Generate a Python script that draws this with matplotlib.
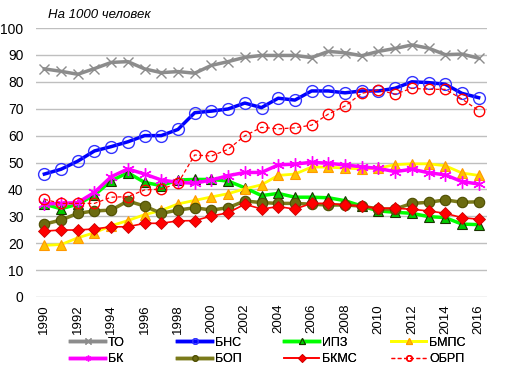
import matplotlib
matplotlib.use("Agg")
import matplotlib.pyplot as plt
from matplotlib.lines import Line2D

plt.rcParams['font.family'] = ['Liberation Sans', 'DejaVu Sans']

years = list(range(1990, 2017))

to_vals = [84.8, 83.9, 82.8, 84.9, 87.2, 87.5, 84.8, 83.4, 83.8, 83.2, 86.1, 87.5, 89.1, 89.8,
           89.8, 89.8, 89.0, 91.3, 90.8, 89.7, 91.3, 92.4, 93.7, 92.5, 90.1, 90.3, 88.8]
bns_vals = [45.7, 47.5, 50.5, 54.3, 55.9, 57.7, 60.0, 60.0, 62.3, 68.5, 69.1, 69.9, 72.1, 70.4,
            73.9, 73.2, 76.6, 76.6, 75.9, 76.6, 76.6, 77.6, 80.0, 79.7, 79.1, 75.7, 74.1]
ipz_vals = [34.5, 32.8, 34.5, 37.9, 43.2, 46.2, 42.6, 41.4, 43.5, 43.7, 43.7, 43.1, 40.6, 37.7,
            38.5, 37.1, 37.1, 36.9, 35.8, 33.8, 32.0, 31.5, 31.1, 29.9, 29.5, 27.1, 26.9]
bmps_vals = [19.2, 19.5, 22.0, 23.9, 26.5, 28.4, 30.6, 32.2, 34.6, 35.9, 37.2, 38.4, 40.2, 41.7,
             45.2, 45.7, 48.3, 48.3, 47.9, 47.6, 47.9, 49.2, 49.5, 49.5, 48.8, 46.1, 45.2]
bk_vals = [34.6, 34.8, 35.1, 38.9, 44.7, 47.6, 45.7, 43.5, 42.6, 42.3, 43.5, 45.1, 46.3, 46.3,
           49.1, 49.4, 50.1, 49.7, 49.1, 48.4, 47.8, 46.6, 47.5, 46.2, 45.4, 42.9, 42.0]
bop_vals = [27.1, 28.6, 31.1, 32.0, 32.3, 35.7, 33.8, 31.1, 32.3, 33.2, 32.3, 33.2, 35.7, 35.1,
            34.8, 34.8, 34.5, 34.2, 34.2, 33.8, 32.7, 32.7, 34.8, 35.2, 36.1, 35.2, 35.4]
bkms_vals = [24.5, 24.9, 24.9, 25.3, 26.1, 26.1, 27.4, 27.4, 28.3, 28.4, 30.1, 31.3, 34.5, 32.7,
             33.6, 32.7, 34.8, 34.8, 34.2, 33.8, 33.0, 33.0, 32.6, 32.0, 31.1, 29.5, 28.9]
obrp_vals = [36.3, 34.8, 34.8, 34.8, 37.1, 37.3, 39.8, 40.1, 42.3, 52.8, 52.4, 54.9, 59.9, 63.1,
             62.5, 62.9, 63.9, 68.0, 71.0, 75.7, 77.0, 75.4, 77.6, 77.2, 77.2, 73.6, 69.3]

labels = ['ТО', 'БНС', 'ИПЗ', 'БМПС', 'БК', 'БОП', 'БКМС', 'ОБРП']
title = 'На 1000 человек'

fig = plt.figure(figsize=(5.16, 3.74), dpi=100)
ax = fig.add_axes([36/516, 1-297/374, 451/516, 269/374])

x = list(range(len(years)))

styles = [
    dict(color='#8c8c8c', lw=2.5, marker='x', ms=7, mec='#8c8c8c', mew=1.0, mfc='none'),
    dict(color='#0000ff', lw=2.5, marker='o', ms=8.5, mec='#3333ff', mew=1.0, mfc='none'),
    dict(color='#00ff00', lw=2.5, marker='^', ms=7, mec='#1a3300', mew=0.8, mfc='#00cc00'),
    dict(color='#ffff00', lw=2.0, marker='^', ms=6.5, mec='#ff9900', mew=0.8, mfc='#ffc000'),
    dict(color='#ff00ff', lw=2.5, marker=(6, 2, 0), ms=9, mec='#ff00ff', mew=1.0, mfc='none'),
    dict(color='#7a7a1a', lw=2.5, marker='o', ms=7.5, mec='#4d4d00', mew=0.8, mfc='#6b6b10'),
    dict(color='#ff0000', lw=1.2, marker='D', ms=6, mec='#cc0000', mew=0.6, mfc='#ff0000'),
    dict(color='#ff0000', lw=0.9, ls=(0, (3, 2)), marker='o', ms=7.5, mec='#ff0000', mew=1.0, mfc='none'),
]
series = [to_vals, bns_vals, ipz_vals, bmps_vals, bk_vals, bop_vals, bkms_vals, obrp_vals]

for i, (vals, st) in enumerate(zip(series, styles)):
    ax.plot(x, vals, zorder=3 + i, **st)

ax.set_xlim(-0.5, len(years) - 0.5)
ax.set_ylim(0, 100)
ax.set_yticks(range(0, 101, 10))
ax.set_xticks(x[::2])
ax.set_xticklabels([str(y) for y in years[::2]], rotation=90, fontsize=9.5)
ax.tick_params(axis='y', labelsize=10, length=0, pad=9)
ax.tick_params(axis='x', length=0, pad=5)
ax.grid(axis='y', color='#bfbfbf', lw=1.0)
for sp in ax.spines.values():
    sp.set_visible(False)
ax.set_axisbelow(True)

fig.text(48/516, 1-15/374, title, fontsize=9.5, style='italic', va='center', ha='left')

handles = []
for st in styles:
    h = dict(st)
    h['ms'] = 4
    handles.append(Line2D([0], [0], **h))

col_x = [70, 177, 284, 391]
for c in range(4):
    idx = [c, c + 4]
    lg = fig.legend([handles[i] for i in idx], [labels[i] for i in idx],
                    loc='center left', bbox_to_anchor=(col_x[c]/516, 1-351/374),
                    frameon=False, fontsize=9, handlelength=2.8, handletextpad=0.25,
                    labelspacing=0.35, borderpad=0, borderaxespad=0)
    fig.add_artist(lg)

fig.savefig('out.png', dpi=100)
